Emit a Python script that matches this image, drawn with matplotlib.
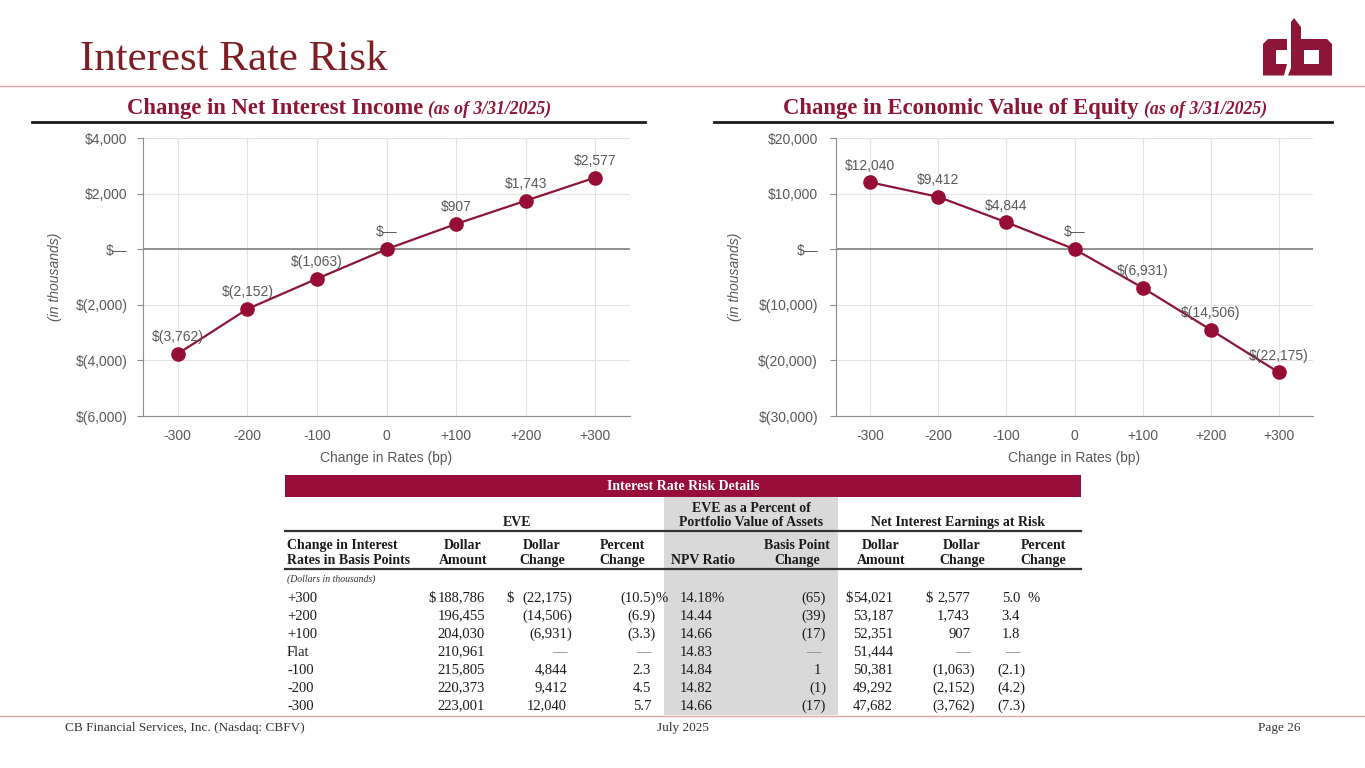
import matplotlib
matplotlib.use("Agg")
import matplotlib.pyplot as plt
from matplotlib.patches import Rectangle, PathPatch, Polygon
from matplotlib.path import Path

# chart data (in thousands)
shocks = [-300, -200, -100, 0, 100, 200, 300]
shock_labels = ["-300", "-200", "-100", "0", "+100", "+200", "+300"]
nii_change = [-3762, -2152, -1063, 0, 907, 1743, 2577]
eve_change = [12040, 9412, 4844, 0, -6931, -14506, -22175]

# table data
rate_rows = ["+300", "+200", "+100", "Flat", "-100", "-200", "-300"]
eve_amount = ["188,786", "196,455", "204,030", "210,961", "215,805", "220,373", "223,001"]
eve_dollar_chg = ["(22,175)", "(14,506)", "(6,931)", "\u2014", "4,844", "9,412", "12,040"]
eve_pct_chg = ["(10.5)", "(6.9)", "(3.3)", "\u2014", "2.3", "4.5", "5.7"]
npv_ratio = ["14.18", "14.44", "14.66", "14.83", "14.84", "14.82", "14.66"]
bp_change = ["(65)", "(39)", "(17)", "\u2014", "1", "(1)", "(17)"]
nie_amount = ["54,021", "53,187", "52,351", "51,444", "50,381", "49,292", "47,682"]
nie_dollar_chg = ["2,577", "1,743", "907", "\u2014", "(1,063)", "(2,152)", "(3,762)"]
nie_pct_chg = ["5.0", "3.4", "1.8", "\u2014", "(2.1)", "(4.2)", "(7.3)"]

W, H = 1365, 768
CRIMSON = "#8c1538"
MARK = "#960d35"
GRAYTXT = "#595959"
SERIF = "Liberation Serif"
SANS = "Liberation Sans"


def money(v, pos=None):
    if v == 0:
        return "$\u2014"
    if v < 0:
        return "$({:,.0f})".format(-v)
    return "${:,.0f}".format(v)


fig = plt.figure(figsize=(W / 100, H / 100), dpi=100)

# overlay axes in pixel coordinates for page elements
pg = fig.add_axes([0, 0, 1, 1])
pg.set_xlim(0, W)
pg.set_ylim(H, 0)
pg.axis("off")
pg.patch.set_alpha(0)

# title + rules
pg.text(80, 70, "Interest Rate Risk", fontsize=31, family=SERIF, color="#7f1d22", va="baseline")
pg.plot([0, W], [86, 86], color="#dca8a8", lw=1)
pg.plot([0, W], [716, 716], color="#dca8a8", lw=1)

# logo
logo_col = "#8c1538"
pg.add_patch(Polygon([(1268, 39), (1287, 39), (1287, 50), (1276, 50), (1276, 64), (1287, 64),
                      (1284, 75.5), (1263, 75.5), (1263, 44)], closed=True, color=logo_col, lw=0))
outer = [(1291, 22), (1294, 18), (1301, 27), (1301, 39), (1327, 39), (1332, 44),
         (1332, 75.5), (1288, 75.5), (1291, 68), (1291, 22)]
hole = [(1304, 50), (1304, 64), (1319, 64), (1319, 50), (1304, 50)]
verts = outer + hole
codes = [Path.MOVETO] + [Path.LINETO] * (len(outer) - 2) + [Path.CLOSEPOLY] + \
        [Path.MOVETO] + [Path.LINETO] * (len(hole) - 2) + [Path.CLOSEPOLY]
pg.add_patch(PathPatch(Path(verts, codes), color=logo_col, lw=0))

renderer = fig.canvas.get_renderer()


def subtitle(center_x, y, bold_txt, ital_txt):
    t1 = pg.text(0, y, bold_txt, fontsize=16.3, family=SERIF, weight="bold", color=CRIMSON, va="baseline")
    t2 = pg.text(0, y, ital_txt, fontsize=12.8, family=SERIF, style="italic", weight="bold",
                 color=CRIMSON, va="baseline")
    w1 = t1.get_window_extent(renderer).width
    w2 = t2.get_window_extent(renderer).width
    gap = 5
    x0 = center_x - (w1 + gap + w2) / 2
    t1.set_x(x0)
    t2.set_x(x0 + w1 + gap)


subtitle(339, 114, "Change in Net Interest Income", "(as of 3/31/2025)")
subtitle(1025, 114, "Change in Economic Value of Equity", "(as of 3/31/2025)")
pg.plot([32, 645], [122, 122], color="#1a1a1a", lw=2)
pg.plot([714, 1332], [122, 122], color="#1a1a1a", lw=2)


def make_chart(left, right, top, bottom, values, ylim, yticks, ylabel_x, ypad):
    ax = fig.add_axes([left / W, 1 - bottom / H, (right - left) / W, (bottom - top) / H])
    ax.set_xlim(-350, 350)
    ax.set_ylim(*ylim)
    ax.set_xticks(shocks)
    ax.set_xticklabels(shock_labels)
    ax.set_yticks(yticks)
    ax.yaxis.set_major_formatter(plt.FuncFormatter(money))
    ax.grid(True, color="#e3e3e3", lw=0.8)
    ax.set_axisbelow(True)
    ax.axhline(0, color="#808080", lw=1.2, zorder=1)
    for s in ["top", "right"]:
        ax.spines[s].set_visible(False)
    for s in ["left", "bottom"]:
        ax.spines[s].set_color("#8c8c8c")
    ax.tick_params(axis="y", colors="#8c8c8c", labelcolor=GRAYTXT, labelsize=10, length=4, pad=ypad)
    ax.tick_params(axis="x", length=0, labelcolor=GRAYTXT, labelsize=10, pad=9)
    for lab in ax.get_xticklabels() + ax.get_yticklabels():
        lab.set_family(SANS)
    ax.set_xlabel("Change in Rates (bp)", fontsize=10, color=GRAYTXT, family=SANS, labelpad=6)
    ax.set_ylabel("(in thousands)", fontsize=10, color=GRAYTXT, family=SANS, style="italic")
    ax.yaxis.set_label_coords((ylabel_x - left) / (right - left), 0.5)
    ax.plot(shocks, values, color=CRIMSON, lw=1.6, marker="o", markersize=9.5,
            markerfacecolor=MARK, markeredgecolor=MARK, zorder=3)
    for x, v in zip(shocks, values):
        ax.annotate(money(v), (x, v), xytext=(0, 7), textcoords="offset points",
                    ha="center", va="bottom", fontsize=10, color=GRAYTXT, family=SANS)
    return ax


make_chart(143, 630, 138, 416, nii_change, (-6000, 4000), range(-6000, 4001, 2000), 62, 7)
make_chart(836, 1313, 138, 416, eve_change, (-30000, 20000), range(-30000, 20001, 10000), 742, 9)

# ---- table ----
pg.add_patch(Rectangle((664, 497), 174, 218, color="#d9d9d9", lw=0, zorder=0))
pg.add_patch(Rectangle((285, 475), 796, 22, color="#990d3b", lw=0))
pg.text(683, 487, "Interest Rate Risk Details", ha="center", va="center", fontsize=10,
        family=SERIF, weight="bold", color="white")

hdr = dict(fontsize=10, family=SERIF, weight="bold", color="#1a1a1a", va="baseline")
pg.text(517, 526, "EVE", ha="center", **hdr)
pg.text(751, 512, "EVE as a Percent of", ha="center", **hdr)
pg.text(751, 526, "Portfolio Value of Assets", ha="center", **hdr)
pg.text(958, 526, "Net Interest Earnings at Risk", ha="center", **hdr)
pg.plot([285, 1081], [531, 531], color="#333333", lw=1.6)

pg.text(287, 549, "Change in Interest", ha="left", **hdr)
pg.text(287, 564, "Rates in Basis Points", ha="left", **hdr)
col_heads = [(463, "Dollar", "Amount"), (542, "Dollar", "Change"), (622, "Percent", "Change"),
             (703, "", "NPV Ratio"), (797, "Basis Point", "Change"), (881, "Dollar", "Amount"),
             (962, "Dollar", "Change"), (1043, "Percent", "Change")]
for cx, l1, l2 in col_heads:
    if l1:
        pg.text(cx, 549, l1, ha="center", **hdr)
    pg.text(cx, 564, l2, ha="center", **hdr)
pg.plot([285, 1081], [569, 569], color="#333333", lw=1.6)

pg.text(287, 582, "(Dollars in thousands)", fontsize=7, family=SERIF, style="italic",
        color="#333333", va="baseline")

cell = dict(fontsize=10.5, family=SERIF, color="#1a1a1a", va="baseline")


def put(x_right, y, s):
    # hanging parenthesis alignment like financial tables
    if s == "\u2014":
        pg.text(x_right - 8, y, s, ha="center", color="#7f7f7f", fontsize=10.5, family=SERIF, va="baseline")
        return
    # comma-only strings get rasterised a pixel low, nudge them back up
    if "," in s and "(" not in s:
        y -= 1
    if s.endswith(")"):
        pg.text(x_right + 5, y, s, ha="right", **cell)
    else:
        pg.text(x_right, y, s, ha="right", **cell)


cols = [(485, eve_amount), (567, eve_dollar_chg), (651, eve_pct_chg), (713, npv_ratio),
        (821, bp_change), (893, nie_amount), (970, nie_dollar_chg), (1020, nie_pct_chg)]
for i, r in enumerate(rate_rows):
    y = 602 + i * 18
    pg.text(287, y, r, ha="left", **cell)
    for xr, vals in cols:
        put(xr, y, vals[i])

y0 = 602
for x in [428, 506, 845, 925]:
    pg.text(x, y0, "$", ha="left", **cell)
pg.text(656, y0, "%", ha="left", **cell)
pg.text(712, y0, "%", ha="left", **cell)
pg.text(1028, y0, "%", ha="left", **cell)

# footer
foot = dict(fontsize=9.5, family=SERIF, color="#333333", va="baseline")
pg.text(65, 731, "CB Financial Services, Inc. (Nasdaq: CBFV)", ha="left", **foot)
pg.text(683, 731, "July 2025", ha="center", **foot)
pg.text(1301, 731, "Page 26", ha="right", **foot)

fig.savefig("out.png", dpi=100)
